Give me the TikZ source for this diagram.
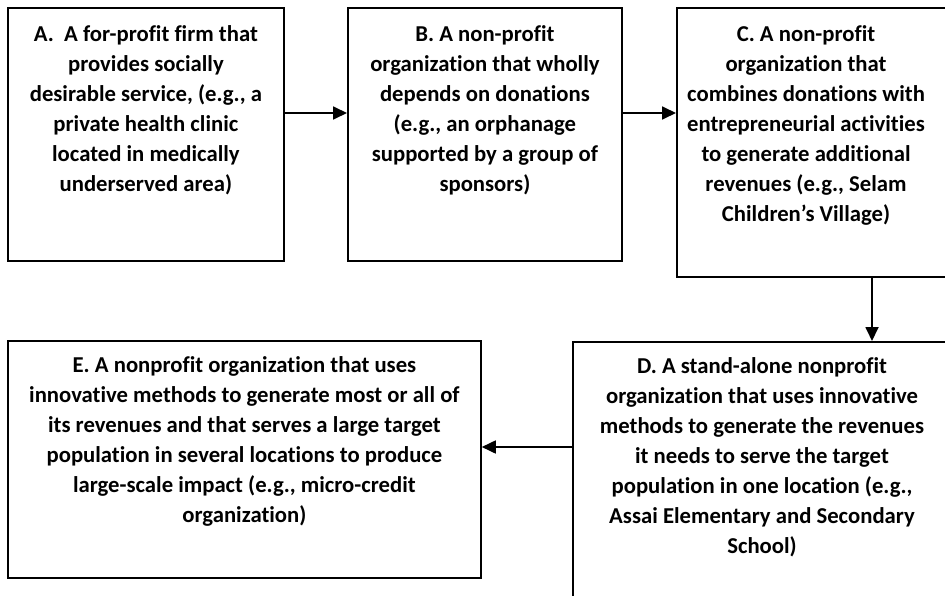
\documentclass[tikz,border=0pt]{standalone}
\usepackage{fontspec}
\setmainfont[Ligatures={NoCommon,NoRequired}]{Carlito}
\usepackage{tikz}
\usetikzlibrary{arrows.meta,positioning}
\tikzset{
    %Define standard arrow tip
    >={Triangle[length=14pt,width=13pt]},
    %Define style for boxes
    kasten/.style={
           rectangle,
           draw=black, line width=1.8pt,
           inner sep=0pt,
           anchor=north west},
    %Define style for box texts
    txt/.style={
           anchor=base,
           inner sep=0pt,
           align=center,
           font=\fontsize{22.7}{30}\selectfont\bfseries},
    % Define arrow style
    pil/.style={
           ->,
           line width=1.8pt}
}
\begin{document}
\begin{tikzpicture}[x=1pt,y=-1pt]
\useasboundingbox (0,0) rectangle (945,596);
\clip (0,0) rectangle (945,596);
 %boxes
\node[kasten, minimum width=276pt, minimum height=253pt] (boxA) at (7,7) {};
\node[kasten, minimum width=274pt, minimum height=253pt] (boxB) at (347,7) {};
\node[kasten, minimum width=285pt, minimum height=269pt] (boxC) at (676,7) {};
\node[kasten, minimum width=390pt, minimum height=270pt] (boxD) at (572,341) {};
\node[kasten, minimum width=473pt, minimum height=237pt] (boxE) at (7,340) {};

 %texts
\node[txt, below=18pt of boxA.north] (txtA) {A.\ \ A for-profit firm that\\ provides socially\\ desirable service, (e.g., a\\ private health clinic\\ located in medically\\ underserved area)};
\node[txt, below=18pt of boxB.north] (txtB) {B. A non-profit\\ organization that wholly\\ depends on donations\\ (e.g., an orphanage\\ supported by a group of\\ sponsors)};
\node[txt, below=18pt of boxC.north west, xshift=130pt] (txtC) {C. A non-profit\\ organization that\\ combines donations with\\ entrepreneurial activities\\ to generate additional\\ revenues (e.g., Selam\\ Children’s Village)};
\node[txt, below=16pt of boxD.north west, xshift=190pt] (txtD) {D. A stand-alone nonprofit\\ organization that uses innovative\\ methods to generate the revenues\\ it needs to serve the target\\ population in one location (e.g.,\\ Assai Elementary and Secondary\\ School)};
\node[txt, below=16pt of boxE.north] (txtE) {E. A nonprofit organization that uses\\ innovative methods to generate most or all of\\ its revenues and that serves a large target\\ population in several locations to produce\\ large-scale impact (e.g., micro-credit\\ organization)};

 %arrows
\draw[pil] (boxA.east |- 0,113) -- (boxB.west |- 0,113);
\draw[pil] (boxB.east |- 0,113) -- (boxC.west |- 0,113);
\draw[pil] (boxC.south -| 872,0) -- (boxD.north -| 872,0);
\draw[pil] (boxD.west |- 0,447) -- (boxE.east |- 0,447);

\end{tikzpicture}
\end{document}
